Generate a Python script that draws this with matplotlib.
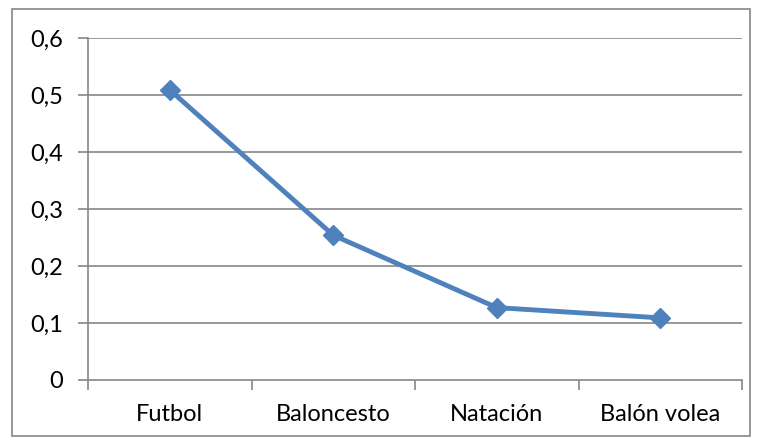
import matplotlib.pyplot as plt
from matplotlib.patches import Rectangle
from matplotlib.ticker import FuncFormatter

deportes = ["Futbol", "Baloncesto", "Natación", "Balón volea"]
valores = [0.509, 0.254, 0.127, 0.109]
y_ticks = [0, 0.1, 0.2, 0.3, 0.4, 0.5, 0.6]

plt.rcParams['font.family'] = ['Lato', 'DejaVu Sans']

W, H = 757, 443
fig = plt.figure(figsize=(W / 100, H / 100), dpi=100)
fig.patch.set_facecolor("white")

# borde exterior del grafico
fig.add_artist(Rectangle((12 / W, 1 - 436 / H), (750 - 12) / W, (436 - 9) / H,
                         transform=fig.transFigure, fill=False,
                         edgecolor="#868686", linewidth=1.2))

ax = fig.add_axes([88 / W, 1 - 380 / H, (742 - 88) / W, (380 - 38) / H])

gris = "#868686"
x = range(len(deportes))
ax.plot(x, valores, color="#4F81BD", linewidth=3.5, marker="D",
        markersize=10, zorder=3, solid_joinstyle="round")

ax.set_xlim(-0.5, len(deportes) - 0.5)
ax.set_ylim(0, 0.6)
ax.set_yticks(y_ticks)
ax.yaxis.set_major_formatter(FuncFormatter(lambda v, p: "0" if v == 0 else f"{v:.1f}".replace(".", ",")))
for v in y_ticks[1:]:
    ax.axhline(v, color=gris, linewidth=1.2, zorder=1)

ax.set_xticks([i - 0.5 for i in range(len(deportes) + 1)], minor=False)
ax.set_xticklabels([])
ax.set_xticks(list(x), minor=True)
ax.set_xticklabels(deportes, minor=True)
ax.tick_params(axis="x", which="major", length=7, width=1.2, color=gris, direction="out")
ax.tick_params(axis="x", which="minor", length=0, pad=17, labelsize=17)
ax.tick_params(axis="y", length=7, width=1.2, color=gris, labelsize=17, pad=11)

for s in ["top", "right"]:
    ax.spines[s].set_visible(False)
for s in ["left", "bottom"]:
    ax.spines[s].set_color(gris)
    ax.spines[s].set_linewidth(1.2)

fig.savefig("out.png", dpi=100)
